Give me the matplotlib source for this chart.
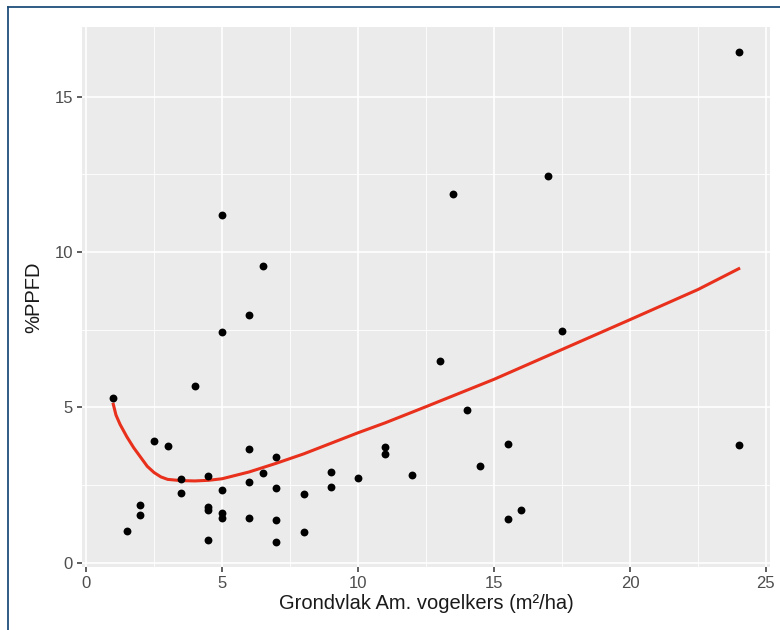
import numpy as np
import matplotlib.pyplot as plt
from matplotlib.lines import Line2D

# measured points
grondvlak = [1.0, 1.5, 2.0, 2.0, 2.5, 3.0, 3.5, 3.5, 4.0,
             4.5, 4.5, 4.5, 4.5, 5.0, 5.0, 5.0, 5.0, 5.0,
             6.0, 6.0, 6.0, 6.0, 6.5, 6.5, 7.0, 7.0, 7.0, 7.0,
             8.0, 8.0, 9.0, 9.0, 10.0, 11.0, 11.0, 12.0,
             13.0, 13.5, 14.0, 14.5, 15.5, 15.5, 16.0,
             17.0, 17.5, 24.0, 24.0]
ppfd = [5.3, 1.03, 1.84, 1.52, 3.9, 3.77, 2.7, 2.23, 5.68,
        2.8, 1.8, 1.7, 0.72, 11.2, 7.42, 2.35, 1.6, 1.45,
        7.97, 3.65, 2.6, 1.45, 9.55, 2.88, 3.4, 2.4, 1.38, 0.65,
        2.2, 1.0, 2.93, 2.43, 2.72, 3.72, 3.5, 2.83,
        6.5, 11.85, 4.9, 3.1, 3.83, 1.42, 1.7,
        12.45, 7.45, 16.45, 3.8]

# fitted curve
fit_x = [1.0, 1.1, 1.25, 1.5, 1.75, 2.0, 2.25, 2.5, 2.75, 3.0, 3.5, 4.0,
         4.5, 5.0, 6.0, 7.0, 8.0, 9.0, 10.0, 11.0, 12.5, 15.0, 17.5,
         20.0, 22.5, 24.0]
fit_y = [5.1, 4.75, 4.45, 4.05, 3.7, 3.4, 3.1, 2.9, 2.76, 2.68, 2.64, 2.63,
         2.65, 2.7, 2.92, 3.2, 3.5, 3.84, 4.18, 4.5, 5.02, 5.9, 6.86,
         7.82, 8.79, 9.46]

xticks = [0, 5, 10, 15, 20, 25]
yticks = [0, 5, 10, 15]

fig = plt.figure(figsize=(7.8, 6.3), dpi=100)
ax = fig.add_axes([82/780, 1-567/630, 688/780, 540/630])
ax.set_facecolor("#EBEBEB")

ax.set_xticks(xticks)
ax.set_yticks(yticks)
ax.set_xticks([2.5, 7.5, 12.5, 17.5, 22.5], minor=True)
ax.set_yticks([2.5, 7.5, 12.5], minor=True)
ax.grid(which="major", color="white", lw=1.2)
ax.grid(which="minor", color="white", lw=0.6)
ax.set_axisbelow(True)
for s in ax.spines.values():
    s.set_visible(False)

ax.plot(fit_x, fit_y, color="#E8301C", lw=2.2, zorder=3,
        solid_joinstyle="round")
ax.scatter(grondvlak, ppfd, s=32, color="black", zorder=4, linewidths=0)

ax.set_xlim(-0.15, 25.15)
ax.set_ylim(-0.14, 17.24)

ax.tick_params(which="major", length=3.5, width=1.1, color="#333333",
               labelcolor="#4D4D4D", labelsize=12, pad=3)
ax.tick_params(which="minor", length=0)
for lab in ax.get_xticklabels() + ax.get_yticklabels():
    lab.set_family("Liberation Sans")

ax.set_xlabel("Grondvlak Am. vogelkers (m²/ha)", fontsize=14.5,
              family="Liberation Sans", color="#1A1A1A", labelpad=2)
ax.set_ylabel("%PPFD", fontsize=14.5, family="Liberation Sans",
              color="#1A1A1A", labelpad=8)

# thin frame around the figure (left and top edges)
fig.add_artist(Line2D([8/780, 8/780], [0, 1-7/630], color="#1F4E79", lw=1.3,
                      transform=fig.transFigure))
fig.add_artist(Line2D([8/780, 1], [1-7/630, 1-7/630], color="#1F4E79", lw=1.3,
                      transform=fig.transFigure))

fig.savefig("out.png", dpi=100)
